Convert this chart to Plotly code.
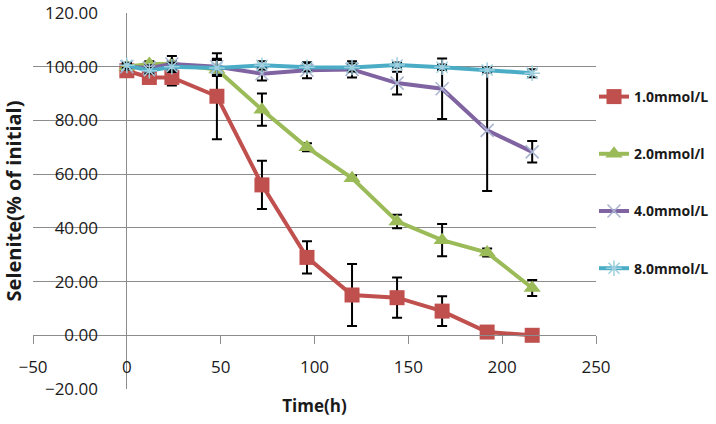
import plotly.graph_objects as go

time_h = [0, 12, 24, 48, 72, 96, 120, 144, 168, 192, 216]

s1_name = "1.0mmol/L"
s1_vals = [98.5, 96, 96, 89, 56, 29, 15, 14, 9, 1.2, 0]
s1_err = [1, 1, 3, 16, 9, 6, 11.5, 7.5, 5.5, 0.5, 0.3]

s2_name = "2.0mmol/l"
s2_vals = [100, 101, 101, 99, 84, 70, 58.5, 42.4, 35.4, 30.8, 17.6]
s2_err = [1, 1, 1, 1, 6, 1.5, 1, 2.5, 6, 1.5, 3]

s3_name = "4.0mmol/L"
s3_vals = [100, 99.5, 101, 100, 97.4, 98.7, 99, 93.9, 91.8, 76.3, 68.3]
s3_err = [1, 1, 3, 3, 2.5, 3, 3, 4.2, 11.3, 22.6, 4]

s4_name = "8.0mmol/L"
s4_vals = [100.5, 98.5, 100, 99.5, 100.5, 99.8, 99.7, 100.6, 99.8, 98.8, 97.6]
s4_err = [1, 1, 1.5, 3, 1.5, 1.5, 1.5, 1, 1, 1, 1.5]

x_ticks = [-50, 0, 50, 100, 150, 200, 250]
y_ticks = [-20, 0, 20, 40, 60, 80, 100, 120]

W, H = 716, 424
x_dom = [33 / W, 596 / W]
y_dom = [1 - 389 / H, 1 - 13 / H]
y0_frac = y_dom[0] + (0 - (-20)) / 140 * (y_dom[1] - y_dom[0])

FONT = "Open Sans"
TXT = "#1a1a1a"
GRID = "#8c8c8c"

series = [
    (s1_name, s1_vals, s1_err, "#C0504D", dict(symbol="square", size=15, color="#C0504D")),
    (s2_name, s2_vals, s2_err, "#9BBB59", dict(symbol="triangle-up", size=15, color="#9BBB59")),
    (s3_name, s3_vals, s3_err, "#8064A2",
     dict(symbol="x-thin-open", size=13, color="#a9b4d0", line=dict(width=1.5, color="#a9b4d0"))),
    (s4_name, s4_vals, s4_err, "#4BACC6",
     dict(symbol="asterisk-open", size=13, color="#9fd0e0", line=dict(width=1.5, color="#9fd0e0"))),
]

fig = go.Figure()
for i, (name, vals, err, col, mk) in enumerate(series):
    fig.add_trace(go.Scatter(
        x=time_h, y=vals, name=name, mode="lines+markers",
        line=dict(color=col, width=4),
        marker=mk,
        error_y=dict(type="data", array=err, visible=True, color="black", thickness=2, width=5),
        legendgroup=f"g{i}",
    ))

fig.update_layout(
    width=W, height=H,
    margin=dict(l=0, r=0, t=0, b=0, autoexpand=False),
    paper_bgcolor="white", plot_bgcolor="white",
    font=dict(family=FONT, size=16, color=TXT),
    showlegend=True,
    legend=dict(
        x=594 / W, y=1 - 81 / H, xanchor="left", yanchor="top",
        font=dict(family=FONT, size=14, color=TXT, weight="bold"),
        tracegroupgap=36, bgcolor="rgba(0,0,0,0)",
    ),
    xaxis=dict(
        domain=x_dom, range=[-50, 250], tickvals=x_ticks,
        anchor="free", position=y0_frac, automargin=False,
        showgrid=False, showline=True, linecolor=GRID, linewidth=1,
        zeroline=True, zerolinecolor=GRID, zerolinewidth=1,
        ticks="outside", ticklen=8, tickcolor=GRID,
        ticklabelstandoff=8,
        tickfont=dict(family=FONT, size=17, color=TXT),
        title=dict(text="Time(h)", standoff=23,
                   font=dict(family=FONT, size=17, color=TXT, weight="bold")),
    ),
    yaxis=dict(
        domain=y_dom, range=[-20, 120], tickvals=y_ticks, tickformat=".2f",
        anchor="free", position=98 / W, automargin=False,
        showgrid=True, gridcolor=GRID, gridwidth=1,
        showline=False, zeroline=False, ticks="",
        tickfont=dict(family=FONT, size=17, color=TXT),
        title=dict(text="Selenite(% of initial)", standoff=16,
                   font=dict(family=FONT, size=20, color=TXT, weight="bold")),
    ),
)

fig.write_html("out.html", post_script="document.body.style.margin='0';",
               config={"displayModeBar": False})
